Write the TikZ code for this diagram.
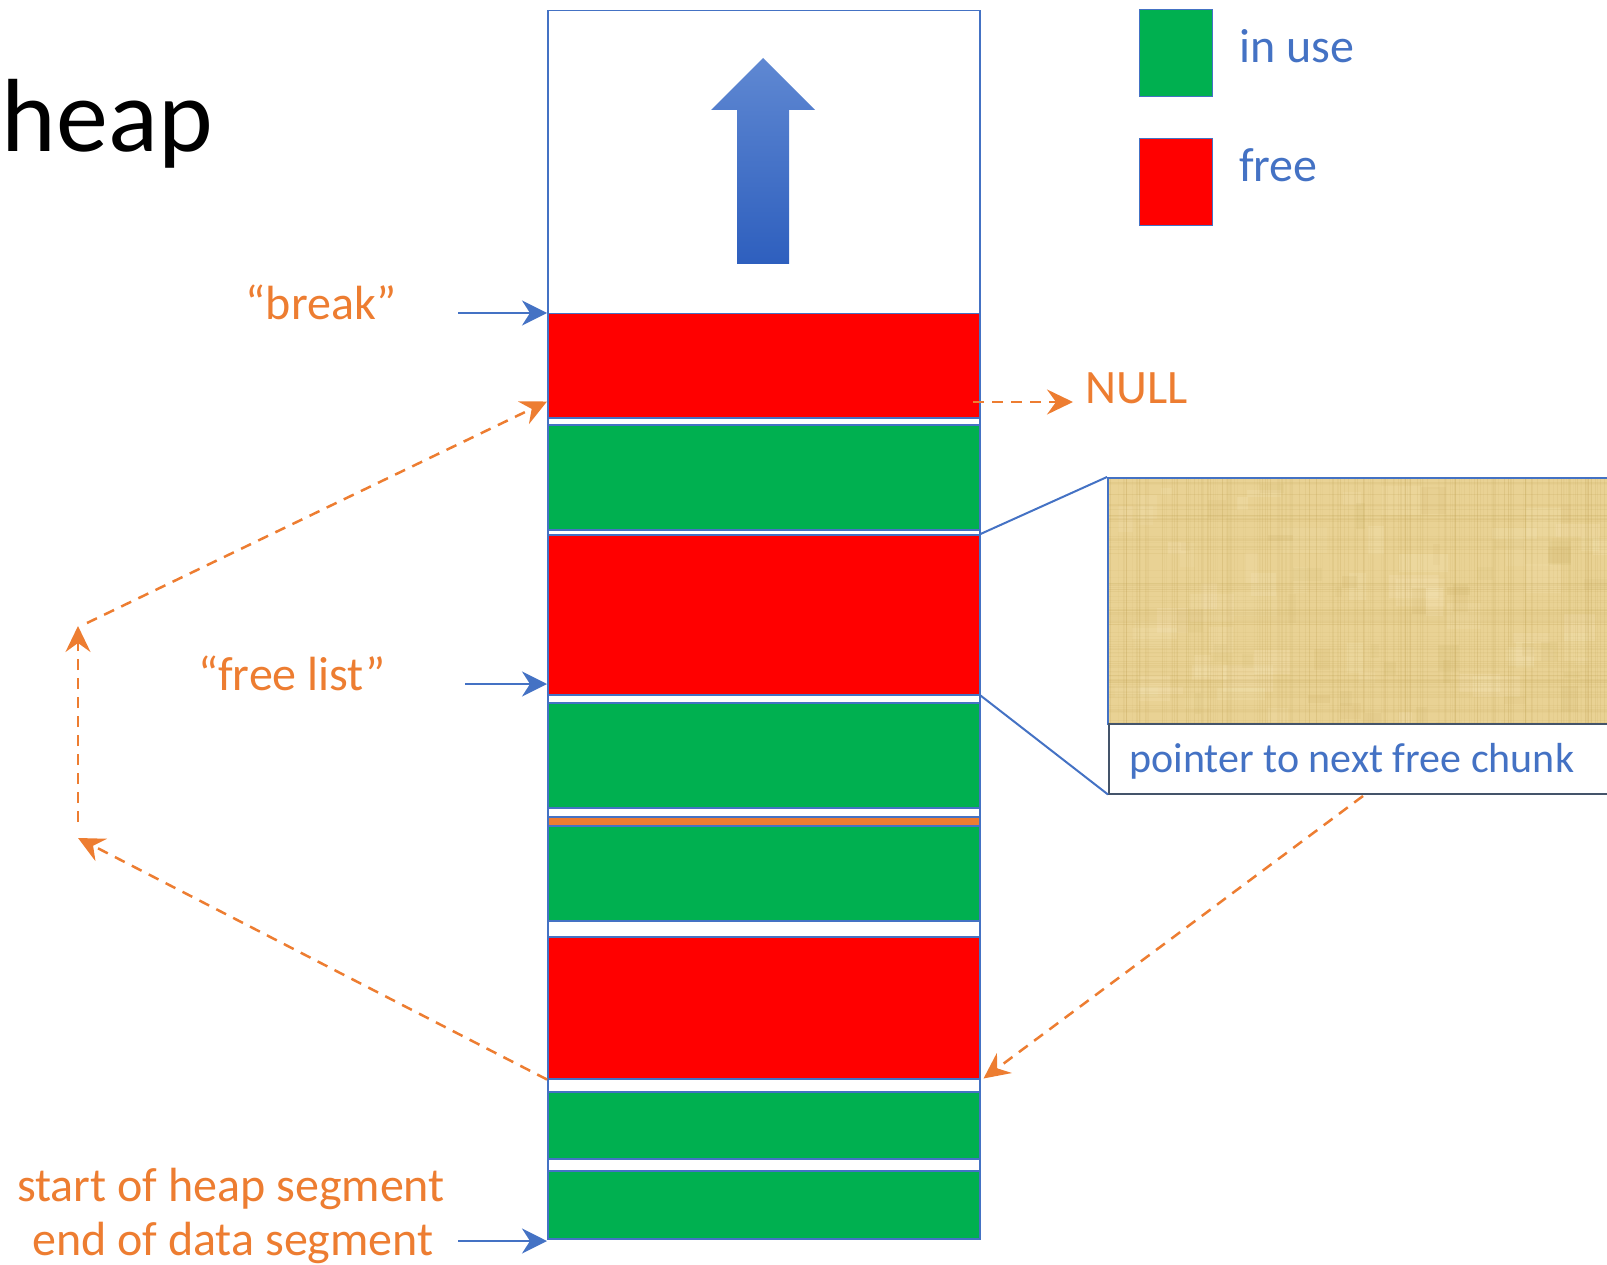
\documentclass[tikz,border=0pt]{standalone}
\usepackage{fontspec}
\setmainfont{Carlito}
\usetikzlibrary{arrows.meta,calc}

\definecolor{accblue}{HTML}{4472C4}
\definecolor{accorange}{HTML}{ED7D31}
\definecolor{usegreen}{HTML}{00B050}
\definecolor{freered}{HTML}{FF0000}
\definecolor{slate}{HTML}{44546A}
\definecolor{paper}{RGB}{233,210,148}
\definecolor{paperdark}{RGB}{190,160,80}
\definecolor{paperlight}{RGB}{250,236,196}
\definecolor{arrowtop}{HTML}{5F88D2}
\definecolor{arrowbot}{HTML}{2E5FBE}

\begin{document}
\begin{tikzpicture}[x=1pt,y=-1pt,
  chunk/.style={draw=accblue, line width=1.5pt, inner sep=0pt,
                minimum width=432pt, anchor=north west},
  keybox/.style={draw=accblue, line width=1pt, inner sep=0pt,
                 minimum width=73pt, minimum height=87pt, anchor=north west},
  lbl/.style={font=\fontsize{48}{58}\selectfont, text=accorange, inner sep=0pt},
  keylbl/.style={font=\fontsize{48}{58}\selectfont, text=accblue, inner sep=0pt, anchor=base west},
  bluearrow/.style={draw=accblue, line width=2pt,
                    -{Stealth[length=25pt,width=25pt,inset=8pt]}},
  listarrow/.style={draw=accorange, line width=2.5pt, dash pattern=on 11pt off 8pt,
                    -{Stealth[length=26pt,width=25pt,inset=9pt]}},
  zoomline/.style={draw=accblue, line width=2pt}
]
\useasboundingbox (0,0) rectangle (1607,1265);

% title
\node[anchor=base east, inner sep=0pt, font=\fontsize{104}{120}\selectfont] (title) at (213,152) {heap};

% heap column
\node[draw=accblue, line width=1.5pt, inner sep=0pt, minimum width=432pt,
      minimum height=1228pt, anchor=north west] (col) at (547,10) {};

% growth direction
\shade[top color=arrowtop, bottom color=arrowbot]
  (763,58) -- (815,110) -- (789,110) -- (789,264) -- (737,264) -- (737,110) -- (711,110) -- cycle;

% chunks
\node[chunk, fill=freered,   minimum height=104pt] (red1)   at (547,313) {};
\node[chunk, fill=usegreen,  minimum height=105pt] (green1) at (547,424) {};
\node[chunk, fill=freered,   minimum height=160pt] (red2)   at (547,534) {};
\node[chunk, fill=usegreen,  minimum height=105pt] (green2) at (547,702) {};
\node[chunk, fill=accorange, minimum height=9pt]   (hdr)    at (547,816) {};
\node[chunk, fill=usegreen,  minimum height=95pt]  (green3) at (547,825) {};
\node[chunk, fill=freered,   minimum height=142pt] (red3)   at (547,936) {};
\node[chunk, fill=usegreen,  minimum height=67pt]  (green4) at (547,1091) {};
\node[chunk, fill=usegreen,  minimum height=68pt]  (green5) at (547,1170) {};

% legend
\node[keybox, fill=usegreen] (keyuse)  at (1139,9) {};
\node[keybox, fill=freered]  (keyfree) at (1139,138) {};
\node[keylbl] (inuse) at (1239,63) {in use};
\node[keylbl] (free)  at (1239,182) {free};

% left-hand labels and their pointers
\node[lbl, anchor=base] (brk) at (321,320) {“break”};
\node[lbl, anchor=base] (fl)  at (292,690) {“free list”};
\node[lbl, anchor=base] (soh) at (231,1201) {start of heap segment};
\node[lbl, anchor=base] (eod) at (233,1255) {end of data segment};
\coordinate (brkfrom) at (458,313);
\coordinate (flfrom)  at (465,684);
\coordinate (eodfrom) at (458,1241);
\draw[bluearrow] (brkfrom) -- (brkfrom -| red1.west);
\draw[bluearrow] (flfrom)  -- (flfrom -| red2.west);
\draw[bluearrow] (eodfrom) -- (eodfrom -| col.west);

% NULL at the end of the list
\node[lbl, anchor=base west] (null) at (1085,403) {NULL};
\coordinate (nullfrom) at (973,402);
\coordinate (nullto)   at (1073,402);
\draw[listarrow] (nullfrom) -- (nullto);

% magnified view of a free chunk: papyrus-like fill
\begin{scope}
  \clip (1107,477) rectangle (1607,723);
  \fill[paper] (1107,477) rectangle (1607,723);
  \pgfmathsetseed{17}
  \foreach \i in {1,...,60} {
    \pgfmathsetmacro\bx{1107+500*rnd}
    \pgfmathsetmacro\by{477+246*rnd}
    \pgfmathsetmacro\bw{10+40*rnd}
    \pgfmathsetmacro\bh{6+24*rnd}
    \pgfmathsetmacro\bo{0.08+0.12*rnd}
    \fill[paperlight, opacity=\bo] (\bx,\by) rectangle ++(\bw,\bh);
  }
  \foreach \i in {1,...,40} {
    \pgfmathsetmacro\bx{1107+500*rnd}
    \pgfmathsetmacro\by{477+246*rnd}
    \pgfmathsetmacro\bw{6+24*rnd}
    \pgfmathsetmacro\bh{6+24*rnd}
    \pgfmathsetmacro\bo{0.04+0.07*rnd}
    \fill[paperdark, opacity=\bo] (\bx,\by) rectangle ++(\bw,\bh);
  }
  \foreach \i in {1,...,220} {
    \pgfmathsetmacro\fx{1107+500*rnd}
    \pgfmathsetmacro\fo{0.04+0.12*rnd}
    \draw[paperdark, line width=0.7pt, opacity=\fo] (\fx,477) -- (\fx,723);
  }
  \foreach \i in {1,...,110} {
    \pgfmathsetmacro\fy{477+246*rnd}
    \pgfmathsetmacro\fo{0.04+0.10*rnd}
    \draw[paperdark, line width=0.7pt, opacity=\fo] (1107,\fy) -- (1607,\fy);
  }
\end{scope}
\node[draw=accblue, line width=1.5pt, inner sep=0pt, minimum width=520pt,
      minimum height=246pt, anchor=north west] (tex) at (1107,477) {};
\node[draw=slate, fill=white, line width=1.5pt, inner sep=0pt, minimum width=520pt,
      minimum height=70pt, anchor=north west] (ptrbox) at (1108,723) {};
\node[font=\fontsize{42}{50}\selectfont, text=accblue, inner sep=0pt, anchor=base west]
      (ptrtext) at (1129,772) {pointer to next free chunk};
\draw[zoomline] (red2.north east) -- (tex.north west);
\draw[zoomline] (red2.south east) -- (ptrbox.south west);

% free-list links
\coordinate (bend1) at (78,838);
\coordinate (up1)   at (78,822);
\coordinate (up2)   at (78,626);
\coordinate (bend2) at (87,623);
\coordinate (ptrout) at (1363,796);
\draw[listarrow] (ptrout) -- ($(red3.south east)+(3,-1)$);
\draw[listarrow] (red3.south west) -- (bend1);
\draw[listarrow] (up1) -- (up2);
\draw[listarrow] (bend2) -- ($(red1.south west)+(0,-17)$);
\end{tikzpicture}
\end{document}
